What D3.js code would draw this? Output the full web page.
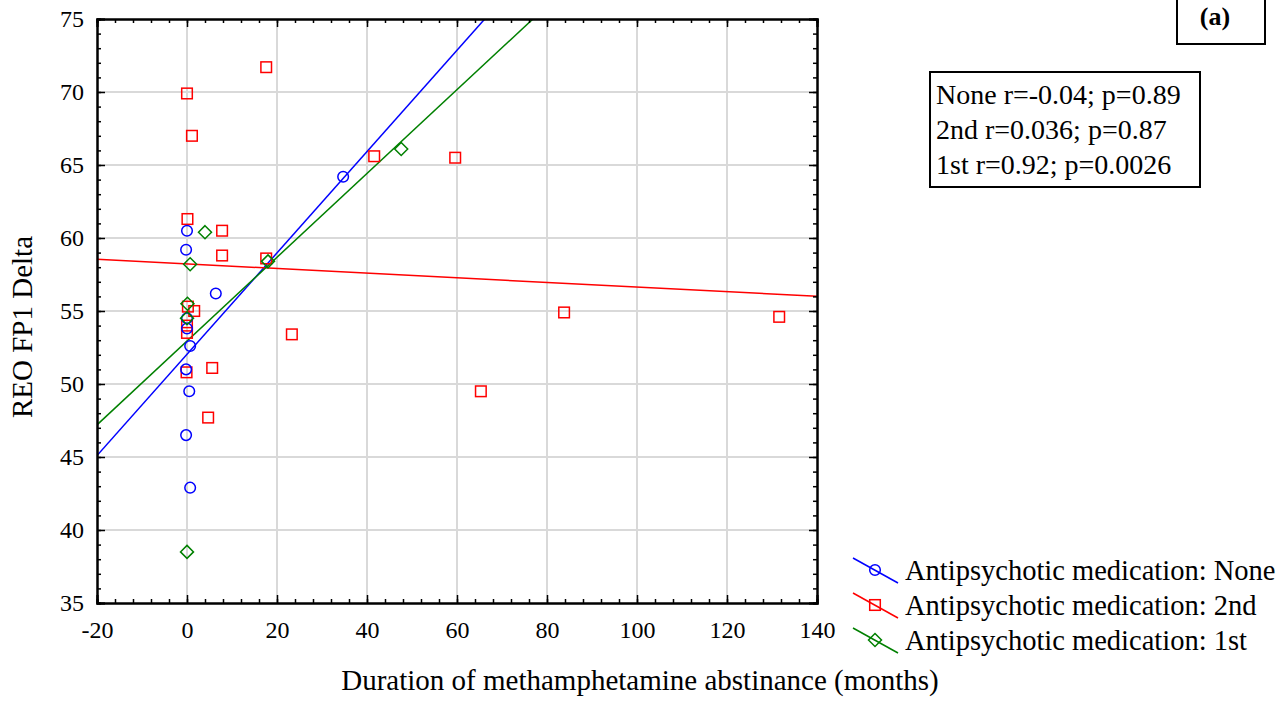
<!DOCTYPE html>
<html>
<head>
<meta charset="utf-8">
<script src="https://cdn.jsdelivr.net/npm/d3@7"></script>
<style>
  body { margin: 0; background: #fff; }
  svg { font-family: "Liberation Serif", "Times New Roman", serif; }
</style>
</head>
<body>
<svg id="chart" width="1287" height="702"></svg>
<script>
// --- data ---
const groups = ['None', '2nd', '1st'];
const groupColors = ['#0000ff', '#ff0000', '#008000'];
const groupShapes = ['circle', 'square', 'diamond'];

const noneX = [0, -0.2, 6.4, 0, 0, 0.7, -0.2, 0.5, -0.2, 0.7, 34.7];
const noneY = [60.5, 59.2, 56.2, 54.5, 53.8, 52.6, 51.0, 49.5, 46.5, 42.9, 64.2];

const secondX = [0, 17.6, 1.1, 0.1, 7.8, 7.8, 17.6, 1.6, 0.2, 0, 0, -0.1, 5.6, 4.7, 23.3, 41.6, 59.6, 65.3, 83.8, 131.6];
const secondY = [69.9, 71.7, 67.0, 61.3, 60.5, 58.8, 58.6, 55.0, 55.3, 54.0, 53.5, 50.8, 51.1, 47.7, 53.4, 65.6, 65.5, 49.5, 54.9, 54.6];

const firstX = [4.0, 0.7, 0.1, 0, 0, 18.0, 47.6];
const firstY = [60.4, 58.2, 55.5, 54.5, 38.5, 58.4, 66.1];

// fitted lines (intercept, slope) as drawn
const fitIntercepts = [52.04, 58.23, 52.94];
const fitSlopes = [0.347, -0.0159, 0.287];

const statLines = ['None r=-0.04; p=0.89', '2nd r=0.036; p=0.87', '1st r=0.92; p=0.0026'];
const xTicks = [-20, 0, 20, 40, 60, 80, 100, 120, 140];
const yTicks = [35, 40, 45, 50, 55, 60, 65, 70, 75];

const series = [
  { x: noneX, y: noneY },
  { x: secondX, y: secondY },
  { x: firstX, y: firstY }
];

// --- layout ---
const svg = d3.select('#chart');
const pLeft = 97, pRight = 817, pTop = 19, pBottom = 603;

const x = d3.scaleLinear().domain([-20, 140]).range([pLeft, pRight]);
const y = d3.scaleLinear().domain([35, 75]).range([pBottom, pTop]);

// gridlines
svg.append('g').selectAll('line').data(xTicks.slice(1, -1)).join('line')
  .attr('x1', d => x(d)).attr('x2', d => x(d))
  .attr('y1', pTop).attr('y2', pBottom)
  .attr('stroke', '#d9d9d9').attr('stroke-width', 2);
svg.append('g').selectAll('line').data(yTicks.slice(1, -1)).join('line')
  .attr('x1', pLeft).attr('x2', pRight)
  .attr('y1', d => y(d)).attr('y2', d => y(d))
  .attr('stroke', '#d9d9d9').attr('stroke-width', 2);

// clip for fitted lines and points
svg.append('clipPath').attr('id', 'plotClip')
  .append('rect').attr('x', pLeft).attr('y', pTop)
  .attr('width', pRight - pLeft).attr('height', pBottom - pTop);

const plot = svg.append('g').attr('clip-path', 'url(#plotClip)');

// regression lines
groups.forEach((g, i) => {
  plot.append('line')
    .attr('x1', x(-20)).attr('y1', y(fitIntercepts[i] + fitSlopes[i] * -20))
    .attr('x2', x(140)).attr('y2', y(fitIntercepts[i] + fitSlopes[i] * 140))
    .attr('stroke', groupColors[i]).attr('stroke-width', 1.5);
});

function drawMarker(sel, shape, color) {
  if (shape === 'circle') {
    sel.append('circle').attr('r', 5.3);
  } else if (shape === 'square') {
    sel.append('rect').attr('x', -5.3).attr('y', -5.3).attr('width', 10.6).attr('height', 10.6);
  } else {
    sel.append('path').attr('d', 'M0,-6.5L6.5,0L0,6.5L-6.5,0Z');
  }
  sel.selectAll('*').attr('fill', 'none').attr('stroke', color).attr('stroke-width', 1.5);
}

// points: draw 2nd, then None, then 1st
[1, 0, 2].forEach(i => {
  const s = series[i];
  s.x.forEach((xv, k) => {
    const m = plot.append('g').attr('transform', `translate(${x(xv)},${y(s.y[k])})`);
    drawMarker(m, groupShapes[i], groupColors[i]);
  });
});

// axes (inward ticks, box on all sides)
const minorX = d3.range(-20, 140.01, 4);
const minorY = d3.range(35, 75.01, 1);
const fmt = d => String(d);

svg.append('g').attr('transform', `translate(0,${pBottom})`)
  .call(d3.axisBottom(x).tickValues(minorX).tickSize(-4).tickFormat(''));
svg.append('g').attr('transform', `translate(0,${pBottom})`)
  .call(d3.axisBottom(x).tickValues(xTicks).tickSize(-8).tickPadding(18).tickFormat(fmt));
svg.append('g').attr('transform', `translate(0,${pTop})`)
  .call(d3.axisTop(x).tickValues(minorX).tickSize(-4).tickFormat(''));
svg.append('g').attr('transform', `translate(0,${pTop})`)
  .call(d3.axisTop(x).tickValues(xTicks).tickSize(-8).tickFormat(''));

svg.append('g').attr('transform', `translate(${pLeft},0)`)
  .call(d3.axisLeft(y).tickValues(minorY).tickSize(-4).tickFormat(''));
svg.append('g').attr('transform', `translate(${pLeft},0)`)
  .call(d3.axisLeft(y).tickValues(yTicks).tickSize(-8).tickPadding(13).tickFormat(fmt));
svg.append('g').attr('transform', `translate(${pRight},0)`)
  .call(d3.axisRight(y).tickValues(minorY).tickSize(-4).tickFormat(''));
svg.append('g').attr('transform', `translate(${pRight},0)`)
  .call(d3.axisRight(y).tickValues(yTicks).tickSize(-8).tickFormat(''));

svg.selectAll('.domain').attr('stroke', '#000').attr('stroke-width', 2);
svg.selectAll('.tick line').attr('stroke', '#000').attr('stroke-width', 1.5);
svg.selectAll('.tick text')
  .attr('font-family', '"Liberation Serif", serif')
  .attr('font-size', 24).attr('fill', '#000');

// axis titles
svg.append('text')
  .attr('x', 640).attr('y', 690)
  .attr('text-anchor', 'middle').attr('font-size', 29)
  .text('Duration of methamphetamine abstinance (months)');
svg.append('text')
  .attr('transform', `translate(32,327) rotate(-90)`)
  .attr('text-anchor', 'middle').attr('font-size', 29)
  .text('REO FP1 Delta');

// stats box
const stats = svg.append('g');
stats.append('rect').attr('x', 930).attr('y', 72).attr('width', 270).attr('height', 115)
  .attr('fill', '#fff').attr('stroke', '#000').attr('stroke-width', 2);
stats.selectAll('text').data(statLines).join('text')
  .attr('x', 936).attr('y', (d, i) => 104 + i * 35)
  .attr('font-size', 28).text(d => d);

// panel label
svg.append('rect').attr('x', 1177).attr('y', -5).attr('width', 88).attr('height', 49)
  .attr('fill', '#fff').attr('stroke', '#000').attr('stroke-width', 2);
svg.append('text').attr('x', 1215).attr('y', 25).attr('text-anchor', 'middle')
  .attr('font-size', 26).attr('font-weight', 'bold').text('(a)');

// legend
const legend = svg.append('g');
groups.forEach((g, i) => {
  const cy = 570 + i * 35;
  const row = legend.append('g').attr('transform', `translate(875,${cy})`);
  row.append('line').attr('x1', -22).attr('y1', -12).attr('x2', 23).attr('y2', 13)
    .attr('stroke', groupColors[i]).attr('stroke-width', 1.5);
  drawMarker(row.append('g'), groupShapes[i], groupColors[i]);
  legend.append('text').attr('x', 905).attr('y', cy + 10)
    .attr('font-size', 28.5).text('Antipsychotic medication: ' + g);
});
</script>
</body>
</html>
